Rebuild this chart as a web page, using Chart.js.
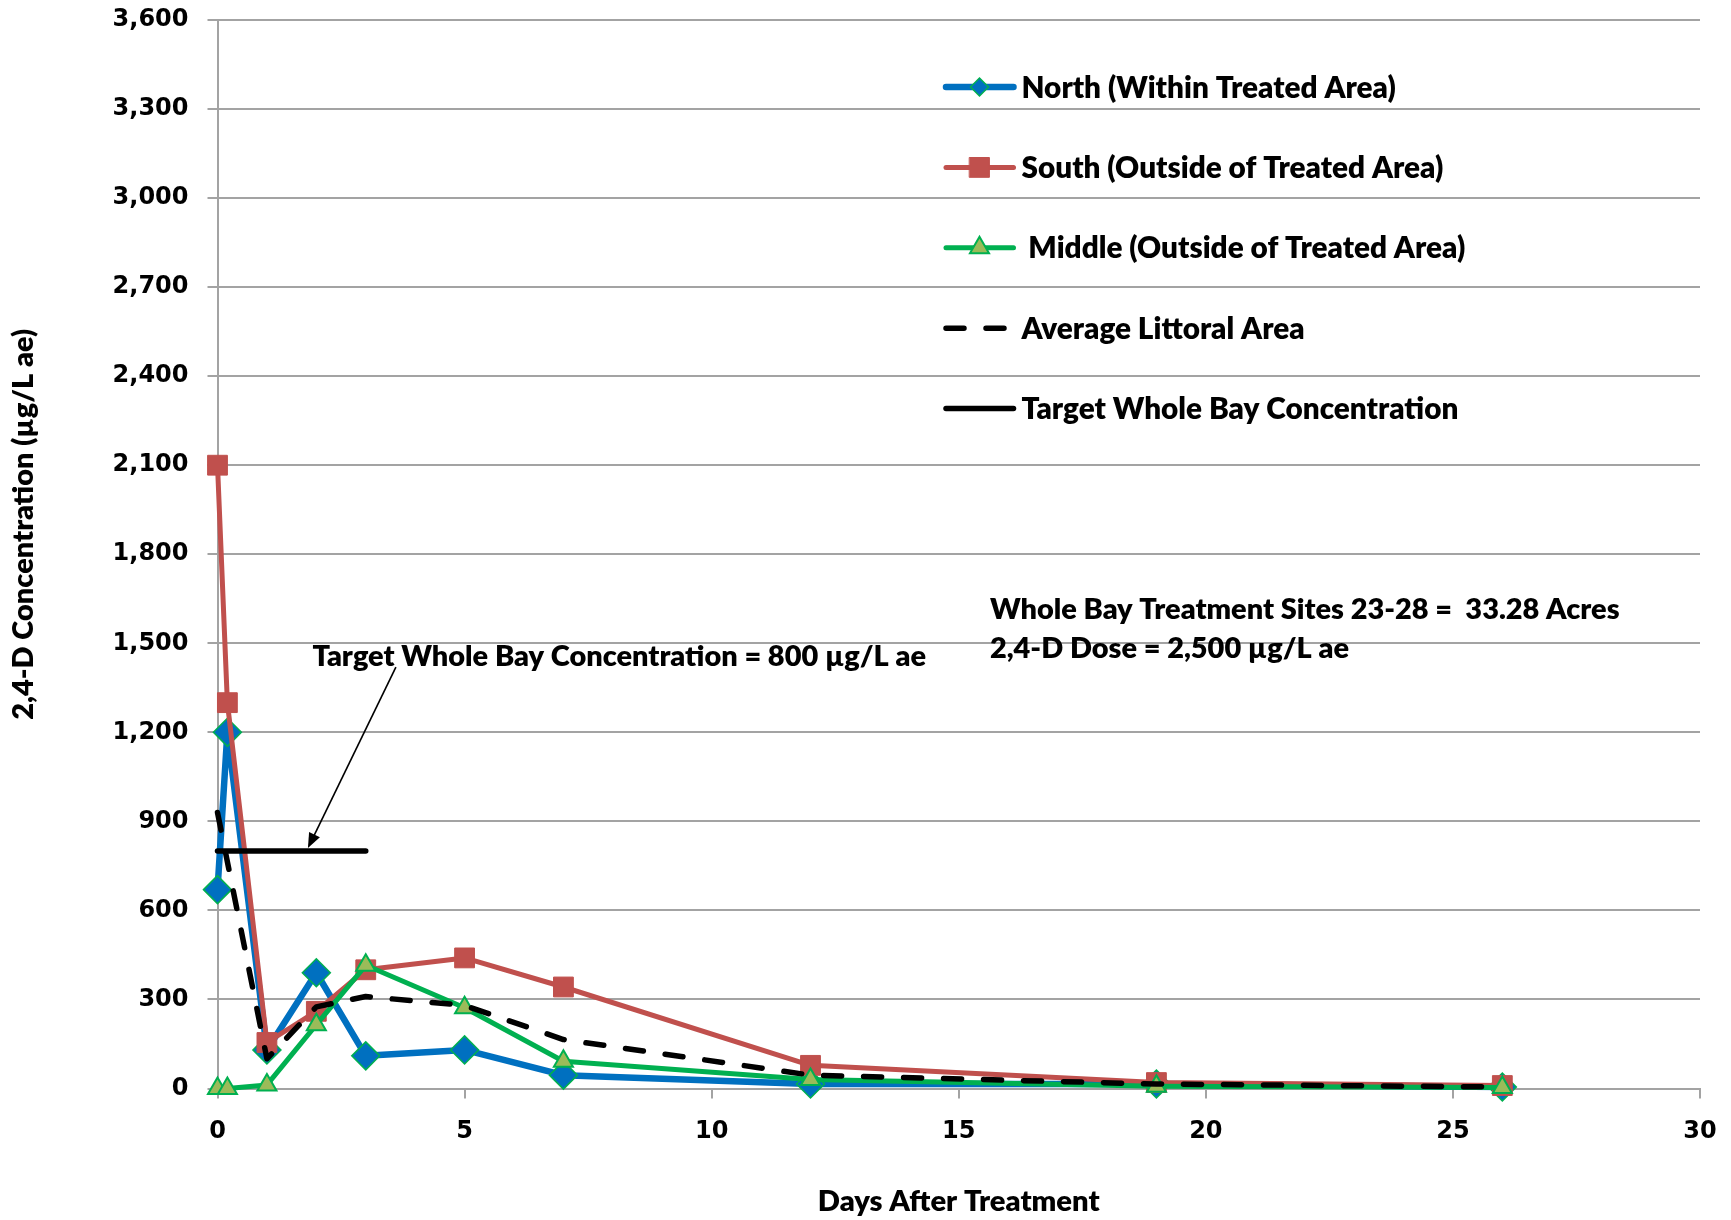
<!DOCTYPE html>
<html>
<head>
<meta charset="utf-8">
<title>2,4-D Concentration</title>
<script src="https://cdn.jsdelivr.net/npm/chart.js@4.4.1/dist/chart.umd.min.js"></script>
<style>
  html, body { margin: 0; padding: 0; background: #fff; }
  #wrap { width: 1731px; height: 1220px; }
</style>
</head>
<body>
<div id="wrap"><canvas id="grafico" width="1731" height="1220"></canvas></div>
<script>
// valores (dias após o tratamento, µg/L ae)
const northDays = [0, 0.2, 1, 2, 3, 5, 7, 12, 19, 26];
const northValues = [670, 1200, 130, 390, 110, 130, 45, 15, 15, 5];
const southDays = [0, 0.2, 1, 2, 3, 5, 7, 12, 19, 26];
const southValues = [2100, 1300, 155, 260, 400, 440, 342, 78, 20, 10];
const middleDays = [0, 0.2, 1, 2, 3, 5, 7, 12, 19, 26];
const middleValues = [0, 0, 12, 215, 415, 272, 92, 30, 8, 3];
const averageDays = [0, 1, 2, 3, 5, 7, 12, 19, 26];
const averageValues = [930, 100, 275, 310, 280, 165, 45, 15, 5];
const targetDays = [0, 3];
const targetValues = [800, 800];

const xTicks = [0, 5, 10, 15, 20, 25, 30];
const yTicks = [0, 300, 600, 900, 1200, 1500, 1800, 2100, 2400, 2700, 3000, 3300, 3600];

const seriesLabels = ['North (Within Treated Area)', 'South (Outside of Treated Area)',
    ' Middle (Outside of Treated Area)', 'Average Littoral Area', 'Target Whole Bay Concentration'];
const xTitle = 'Days After Treatment';
const yTitle = '2,4-D Concentration (µg/L ae)';
const arrowNote = 'Target Whole Bay Concentration = 800 µg/L ae';
const siteNotes = ['Whole Bay Treatment Sites 23-28 =  33.28 Acres', '2,4-D Dose = 2,500 µg/L ae'];

const textFamily = 'Lato, "Open Sans", sans-serif';
const textWeight = '800';
const tickFamily = '"DejaVu Sans", Verdana, sans-serif';
const gridColor = '#a3a3a3';

// tamanho de fonte para que o texto ocupe a largura medida no original
function fitSize(text, width) {
    const c = document.createElement('canvas').getContext('2d');
    c.font = textWeight + ' 100px ' + textFamily;
    return 100 * width / c.measureText(text).width;
}

const legendSize = fitSize(seriesLabels[1], 422);
const noteSize = fitSize(arrowNote, 614);
const xTitleSize = fitSize(xTitle, 282);
const yTitleSize = fitSize(yTitle, 391);

const toPoints = (xs, ys) => xs.map((x, i) => ({ x: x, y: ys[i] }));

const seriesStyles = [
    { color: '#0070C0', width: 6.5, point: 'rectRot', radius: 14, fill: '#0070C0', edge: '#00B050', edgeWidth: 1.5, legendRadius: 9 },
    { color: '#C0504D', width: 5, point: 'rect', radius: 14, fill: '#C0504D', edge: '#C0504D', edgeWidth: 1, legendRadius: 14 },
    { color: '#00B050', width: 5, point: 'triangle', radius: 11, fill: '#9BBB59', edge: '#00B050', edgeWidth: 2, legendRadius: 11 },
    { color: '#000000', width: 5.5, dash: [18, 22] },
    { color: '#000000', width: 5.5 }
];

const seriesData = [
    toPoints(northDays, northValues),
    toPoints(southDays, southValues),
    toPoints(middleDays, middleValues),
    toPoints(averageDays, averageValues),
    toPoints(targetDays, targetValues)
];

const datasets = seriesData.map((data, i) => {
    const s = seriesStyles[i];
    return {
        label: seriesLabels[i],
        data: data,
        borderColor: s.color,
        backgroundColor: s.color,
        borderWidth: s.width,
        borderDash: s.dash || [],
        borderCapStyle: 'round',
        borderJoinStyle: 'round',
        tension: 0,
        pointStyle: s.point || 'circle',
        pointRadius: s.point ? s.radius : 0,
        pointHoverRadius: s.point ? s.radius : 0,
        pointBackgroundColor: s.fill,
        pointBorderColor: s.edge,
        pointBorderWidth: s.edgeWidth || 0,
        clip: false,
        order: 5 - i   // o Excel desenha a última série por cima
    };
});

const anotacoes = {
    id: 'anotacoes',
    afterDraw(chart) {
        const { ctx, chartArea, scales } = chart;
        const x = scales.x, y = scales.y;
        ctx.save();
        ctx.fillStyle = '#000';
        ctx.textBaseline = 'middle';

        // legenda
        const lx = chartArea.left + 726;
        seriesStyles.forEach((s, i) => {
            const ly = chartArea.top + 67 + i * 80.4;
            ctx.strokeStyle = s.color;
            ctx.lineWidth = s.width;
            ctx.lineCap = 'round';
            ctx.setLineDash(s.dash || []);
            ctx.beginPath();
            ctx.moveTo(lx + 2.5, ly);
            ctx.lineTo(lx + 70, ly);
            ctx.stroke();
            ctx.setLineDash([]);
            if (s.point) {
                ctx.fillStyle = s.fill;
                ctx.strokeStyle = s.edge;
                ctx.lineWidth = s.edgeWidth;
                Chart.helpers.drawPoint(ctx, { pointStyle: s.point, radius: s.legendRadius, rotation: 0, borderWidth: s.edgeWidth }, lx + 36, ly);
            }
            ctx.fillStyle = '#000';
            ctx.font = textWeight + ' ' + legendSize + 'px ' + textFamily;
            ctx.textAlign = 'left';
            ctx.fillText(seriesLabels[i], lx + 78, ly + 1);
        });

        // notas
        ctx.font = textWeight + ' ' + noteSize + 'px ' + textFamily;
        ctx.fillText(arrowNote, x.getPixelForValue(1.92), y.getPixelForValue(1455));
        ctx.fillText(siteNotes[0], x.getPixelForValue(15.63), y.getPixelForValue(1614));
        ctx.fillText(siteNotes[1], x.getPixelForValue(15.63), y.getPixelForValue(1481));

        // seta
        const x0 = x.getPixelForValue(3.61), y0 = y.getPixelForValue(1420);
        const x1 = x.getPixelForValue(1.83), y1 = y.getPixelForValue(810);
        const ang = Math.atan2(y1 - y0, x1 - x0);
        ctx.strokeStyle = '#000';
        ctx.lineWidth = 1.6;
        ctx.lineCap = 'butt';
        ctx.beginPath();
        ctx.moveTo(x0, y0);
        ctx.lineTo(x1 - 12 * Math.cos(ang), y1 - 12 * Math.sin(ang));
        ctx.stroke();
        ctx.beginPath();
        ctx.moveTo(x1, y1);
        ctx.lineTo(x1 - 15 * Math.cos(ang) + 6 * Math.sin(ang), y1 - 15 * Math.sin(ang) - 6 * Math.cos(ang));
        ctx.lineTo(x1 - 15 * Math.cos(ang) - 6 * Math.sin(ang), y1 - 15 * Math.sin(ang) + 6 * Math.cos(ang));
        ctx.closePath();
        ctx.fill();

        // título do eixo y
        ctx.translate(24, chartArea.top + (chartArea.bottom - chartArea.top) * 0.472);
        ctx.rotate(-Math.PI / 2);
        ctx.textAlign = 'center';
        ctx.font = textWeight + ' ' + yTitleSize + 'px ' + textFamily;
        ctx.fillText(yTitle, 0, 0);
        ctx.restore();
    }
};

new Chart(document.getElementById('grafico'), {
    type: 'line',
    data: { datasets: datasets },
    options: {
        responsive: false,
        animation: false,
        devicePixelRatio: 1,
        layout: { padding: { top: 20, right: 31, left: 0, bottom: 0 } },
        plugins: {
            legend: { display: false },
            tooltip: { enabled: false }
        },
        scales: {
            x: {
                type: 'linear',
                min: 0,
                max: 30,
                afterBuildTicks: (scale) => { scale.ticks = xTicks.map(v => ({ value: v })); },
                afterFit: (scale) => {
                    scale.height = 131.5;
                    scale.paddingLeft = 0;
                    scale.paddingRight = 0;
                },
                ticks: { color: '#000', padding: 19, font: { family: tickFamily, weight: 'bold', size: 24 } },
                grid: { drawOnChartArea: false, drawTicks: true, tickLength: 10, color: gridColor, lineWidth: 2 },
                border: { display: true, color: gridColor, width: 2 },
                title: {
                    display: true,
                    text: xTitle,
                    color: '#000',
                    font: { family: textFamily, weight: textWeight, size: xTitleSize },
                    padding: { top: 10, bottom: 1220 - 1202 - xTitleSize * 0.6 }
                }
            },
            y: {
                type: 'linear',
                min: 0,
                max: 3600,
                afterBuildTicks: (scale) => { scale.ticks = yTicks.map(v => ({ value: v })); },
                afterFit: (scale) => {
                    scale.width = 217.5;
                    scale.paddingTop = 0;
                    scale.paddingBottom = 0;
                },
                ticks: {
                    color: '#000',
                    padding: 19,
                    font: { family: tickFamily, weight: 'bold', size: 24 },
                    callback: (v) => v.toLocaleString('en-US')
                },
                grid: { color: gridColor, lineWidth: 2, tickLength: 10 },
                border: { display: true, color: gridColor, width: 2 }
            }
        }
    },
    plugins: [anotacoes]
});
</script>
</body>
</html>
